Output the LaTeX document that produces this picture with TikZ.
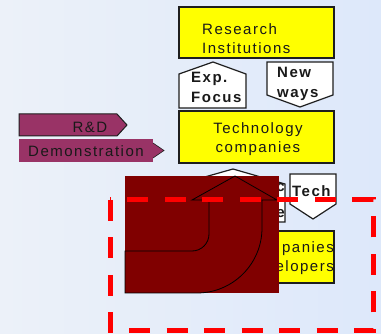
\documentclass[tikz,border=0pt]{standalone}
\usepackage{fontspec}
\setmainfont{Liberation Sans}
\newfontfamily\labelfont[LetterSpace=10]{Liberation Sans}
\definecolor{bgleft}{RGB}{236,241,249}
\definecolor{bgright}{RGB}{221,232,250}
\definecolor{boxyellow}{RGB}{255,255,0}
\definecolor{plum}{RGB}{153,51,102}
\definecolor{blockred}{RGB}{128,0,0}
\definecolor{dashred}{RGB}{255,0,0}
\definecolor{edge}{RGB}{30,30,30}
\begin{document}
\begin{tikzpicture}[x=1pt,y=-1pt,
    ybox/.style={draw=edge, fill=boxyellow, line width=1.2pt},
    tagbox/.style={draw=edge, fill=white, line width=1.2pt, line join=miter},
    lbl/.style={inner sep=0pt, text=black!90, font=\labelfont\fontsize{15pt}{19pt}\selectfont},
    blbl/.style={lbl, font=\labelfont\bfseries\fontsize{15pt}{20pt}\selectfont}]
  \shade[left color=bgleft, right color=bgright] (0,0) rectangle (381,334);
  % yellow boxes
  \draw[ybox] (179,7) rectangle (334,58);
  \node[lbl, anchor=north west, align=left] (research) at (202,23) {Research\\Institutions};
  \draw[ybox] (179,111) rectangle (334,163);
  \node[lbl, anchor=north, align=center] (techcomp) at (258,122) {Technology\\companies};
  \draw[ybox] (179,231) rectangle (334,283);
  \node[lbl, anchor=north east, align=right] (compdev) at (334,241) {panies\\elopers};
  % tags between the boxes
  \draw[tagbox] (179,108) -- (179,74) -- (213,62) -- (246,74) -- (246,108) -- cycle;
  \node[blbl, anchor=north west, align=left] (expfocus) at (191,72) {Exp.\\Focus};
  \draw[tagbox] (267,62) -- (333,62) -- (333,95) -- (300,107) -- (267,95) -- cycle;
  \node[blbl, anchor=north west, align=left] (newways) at (277,67) {New\\ways};
  \draw[tagbox] (180,222) -- (180,184) -- (233,169) -- (285,184) -- (285,222) -- cycle;
  \node[blbl, anchor=base east] (hidtop) at (285,192) {c};
  \node[blbl, anchor=base east] (hidbot) at (285,218) {e};
  \draw[tagbox] (290,174) -- (336,174) -- (336,204) -- (313,219) -- (290,204) -- cycle;
  \node[blbl, anchor=base west] (tech) at (292,197) {Tech};
  % left labels
  \filldraw[fill=plum, draw=edge, line width=1pt] (19,114) -- (117,114) -- (127,125) -- (117,136) -- (19,136) -- cycle;
  \node[lbl, anchor=base] (rnd) at (90,133) {R\&D};
  \fill[plum] (19,139) rectangle (153,162);
  \filldraw[fill=plum, draw=edge, line width=0.6pt] (153,143) -- (164,150.5) -- (153,158);
  \node[lbl, anchor=base] (demo) at (86,157) {Demonstration};
  % dark block with bent arrow
  \fill[blockred] (125,176) rectangle (279,293);
  \draw[black, line width=0.8pt] (125,251) -- (192,251)
    .. controls (201.4,251) and (209,243.4) .. (209,234) -- (209,200) -- (192,200)
    -- (235,176) -- (277,200) -- (262,200) -- (262,228)
    .. controls (262,263.9) and (232.9,293) .. (197,293) -- (125,293) -- cycle;
  % dashed frame
  \draw[dashred, line width=5pt, dash pattern=on 21pt off 16.5pt]
    (110,200) -- (110,331) -- (373,331) -- (373,200) -- cycle;
\end{tikzpicture}
\end{document}
